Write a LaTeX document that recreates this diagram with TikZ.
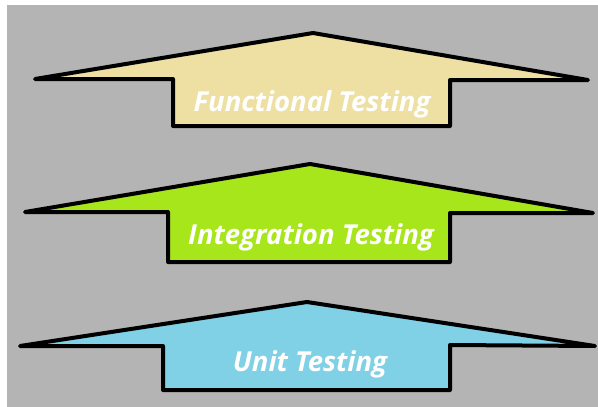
\documentclass[tikz,border=0pt]{standalone}
\usepackage{fontspec}
\setmainfont{Open Sans}
\definecolor{bggray}{HTML}{B4B4B4}
\definecolor{functan}{HTML}{EDE0A2}
\definecolor{integgreen}{HTML}{A8E61C}
\definecolor{unitblue}{HTML}{80D0E6}
\begin{document}
\begin{tikzpicture}[
			x=1pt,y=-1pt,
			levelarrow/.style={draw=black,line width=4pt,line join=round},
			levellabel/.style={text=white,font=\fontsize{27.5}{27.5}\selectfont\bfseries\itshape,anchor=base}
		]
		\useasboundingbox (0,0) rectangle (598,407);
		\fill[white] (0,0) rectangle (598,407);
		\fill[bggray] (7,5) rectangle (598,407);
		% functional
		\draw[levelarrow,fill=functan] (35,79) -- (313,33) -- (588,80) -- (450,80)
			-- (450,126) -- (173,126) -- (173,79) -- cycle;
		\node[levellabel] (functional) at (312,111) {Functional Testing};
		% integration
		\draw[levelarrow,fill=integgreen] (25,212) -- (310,164) -- (593,213) -- (450,213)
			-- (450,262) -- (168,262) -- (168,212) -- cycle;
		\node[levellabel] (integration) at (311,244) {Integration Testing};
		% unit
		\draw[levelarrow,fill=unitblue] (20,346) -- (307,302) -- (595,346) -- (450,345)
			-- (450,390) -- (163,390) -- (163,346) -- cycle;
		\node[levellabel] (unit) at (310,371) {Unit Testing};
	\end{tikzpicture}
\end{document}
